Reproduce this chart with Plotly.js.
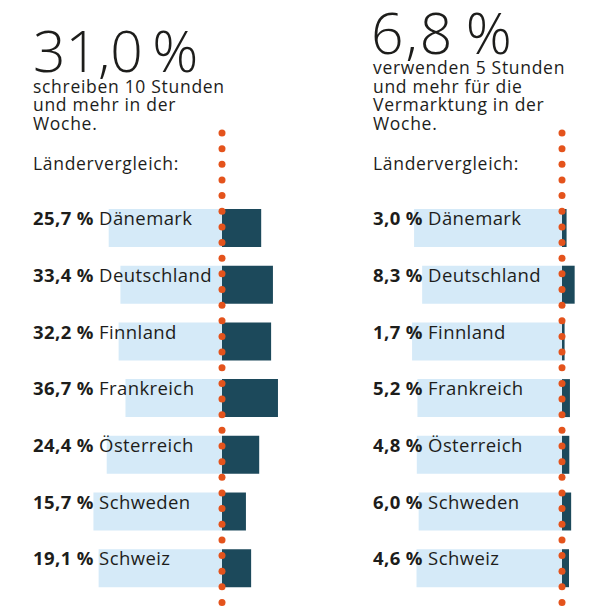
<!DOCTYPE html>
<html><head><meta charset="utf-8">
<script src="https://cdn.plot.ly/plotly-3.0.1.min.js"></script>
<style>html,body{margin:0;padding:0;background:#fff}#chart{width:589px;height:616px}</style>
</head><body><div id="chart"></div>
<script>
// ---- data ----
const countries = ['Dänemark','Deutschland','Finnland','Frankreich','Österreich','Schweden','Schweiz'];
const writingShare = [25.7, 33.4, 32.2, 36.7, 24.4, 15.7, 19.1];   // % writing 10h+ per week
const marketingShare = [3.0, 8.3, 1.7, 5.2, 4.8, 6.0, 4.6];        // % marketing 5h+ per week
const headlineValues = [31.0, 6.8];
const subtitleLeft = ['schreiben 10 Stunden', 'und mehr in der', 'Woche.'];
const subtitleRight = ['verwenden 5 Stunden', 'und mehr für die', 'Vermarktung in der', 'Woche.'];
const sectionLabel = 'Ländervergleich:';

// ---- styling ----
const W = 589, H = 616;
const FONT = '"Open Sans", Lato, sans-serif';
const TXT = '#1d1d1b';
const LIGHT = '#d5eaf8', DARK = '#1c495b', DOT = '#e4531c';
const pxPerPct = 1.525;
const zeroL = 222, zeroR = 562, splitX = 300;
const rowTop = 228, rowStep = 56.7;
const SUB = 17.5;

const fmt = (v, sp) => v.toFixed(1).replace('.', ',') + sp + '%';
const ls = (t, px) => '<span style="letter-spacing:' + px + 'px">' + t + '</span>';
const idx = countries.map((c, i) => i);

function barTraces(vals, xa) {
  return [
    {type: 'bar', orientation: 'h', x: vals.map(v => -(100 - v)), y: idx, width: 0.67,
     marker: {color: LIGHT}, xaxis: xa, yaxis: 'y', hoverinfo: 'skip'},
    {type: 'bar', orientation: 'h', x: vals, y: idx, width: 0.67,
     marker: {color: DARK}, xaxis: xa, yaxis: 'y', hoverinfo: 'skip'}
  ];
}
// decorative dotted reference line (spacing only, not data)
const dotY = [];
for (let p = 133; p <= 607; p += 15.65) dotY.push((p - rowTop) / rowStep);
function dots(xa) {
  return {type: 'scatter', mode: 'markers', x: dotY.map(() => 0), y: dotY, xaxis: xa, yaxis: 'y',
          marker: {color: DOT, size: 7}, hoverinfo: 'skip', cliponaxis: false};
}

const data = [...barTraces(writingShare, 'x'), ...barTraces(marketingShare, 'x2'), dots('x'), dots('x2')];

const ann = [];
const py = p => 1 - p / H;
function panelText(x0, hx, headline, headY, headLs, subs, subMid) {
  ann.push({xref: 'paper', yref: 'paper', x: hx / W, y: py(headY), xanchor: 'left', yanchor: 'middle',
            text: ls(fmt(headline, '\u2009'), headLs), showarrow: false,
            font: {family: FONT, size: 57, weight: 300, color: TXT}});
  subs.forEach((s, i) => ann.push({xref: 'paper', yref: 'paper', x: x0 / W, y: py(subMid[i]), xanchor: 'left', yanchor: 'middle',
            text: ls(s, 0.7), showarrow: false, font: {family: FONT, size: SUB, color: TXT}}));
  ann.push({xref: 'paper', yref: 'paper', x: x0 / W, y: py(163), xanchor: 'left', yanchor: 'middle',
            text: ls(sectionLabel, 0.7), showarrow: false, font: {family: FONT, size: SUB, color: TXT}});
}
panelText(31, 31, headlineValues[0], 50, 0, subtitleLeft, [85.5, 104, 122.5]);
panelText(371, 369, headlineValues[1], 32, 2, subtitleRight, [67, 85.5, 104, 122.5]);

function rowLabels(x0, vals) {
  vals.forEach((v, i) => ann.push({xref: 'paper', yref: 'y', x: x0 / W, y: i - 0.18, xanchor: 'left', yanchor: 'middle',
    text: ls('<b>' + fmt(v, ' ') + '</b> ' + countries[i], 0.4), showarrow: false, font: {family: FONT, size: 18.5, color: TXT}}));
}
rowLabels(31, writingShare);
rowLabels(371, marketingShare);

const layout = {
  width: W, height: H, margin: {l: 0, r: 0, t: 0, b: 0},
  paper_bgcolor: '#fff', plot_bgcolor: 'rgba(0,0,0,0)',
  barmode: 'relative', showlegend: false,
  xaxis: {domain: [0, splitX / W], range: [-zeroL / pxPerPct, (splitX - zeroL) / pxPerPct], visible: false, fixedrange: true},
  xaxis2: {domain: [splitX / W, 1], range: [-(zeroR - splitX) / pxPerPct, (W - zeroR) / pxPerPct], visible: false, anchor: 'y', fixedrange: true},
  yaxis: {range: [(H - rowTop) / rowStep, -rowTop / rowStep], visible: false, fixedrange: true},
  annotations: ann
};
Plotly.newPlot('chart', data, layout, {displayModeBar: false, staticPlot: true});
</script></body></html>
